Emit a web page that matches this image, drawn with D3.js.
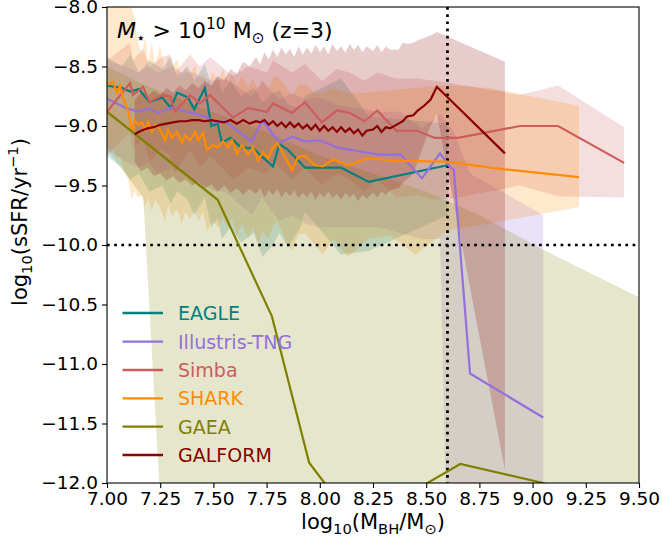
<!DOCTYPE html>
<html>
<head>
<meta charset="utf-8">
<script src="https://cdn.jsdelivr.net/npm/d3@7"></script>
<style>
  html, body { margin: 0; padding: 0; background: #fff; }
  svg { display: block; font-family: "DejaVu Sans", sans-serif; }
</style>
</head>
<body>
<div id="chart"></div>
<script>
// ---- data: median sSFR and 16-84 percentile range per model ----
const eagleX   = [7.00,7.07,7.11,7.15,7.20,7.26,7.30,7.33,7.38,7.41,7.46,7.49,7.52,7.54,7.58,7.63,7.69,7.73,7.78,7.81,7.85,7.91,7.93,8.10,8.23,8.60];
const eagleMed = [-8.66,-8.68,-8.71,-8.69,-8.80,-8.76,-8.85,-8.72,-8.76,-8.86,-8.68,-9.00,-8.98,-9.14,-9.10,-9.18,-9.19,-9.26,-9.34,-9.15,-9.20,-9.31,-9.35,-9.35,-9.47,-9.33];
const eagleHi  = [-8.42,-8.50,-8.40,-8.55,-8.45,-8.52,-8.42,-8.58,-8.50,-8.62,-8.48,-8.66,-8.58,-8.72,-8.62,-8.75,-8.68,-8.80,-8.72,-8.70,-8.82,-8.85,-8.75,-8.60,-8.92,-8.98];
const eagleLo  = [-9.25,-9.35,-9.45,-9.40,-9.55,-9.50,-9.65,-9.55,-9.62,-9.75,-9.60,-9.85,-9.78,-9.95,-9.85,-9.98,-9.90,-10.10,-10.00,-9.90,-10.02,-9.85,-9.72,-10.08,-10.05,-9.75];

const tngX   = [7.00,7.09,7.15,7.19,7.24,7.31,7.35,7.40,7.46,7.51,7.555,7.68,7.73,7.81,7.87,7.93,8.00,8.08,8.175,8.28,8.38,8.48,8.565,8.61,8.63,8.706,9.05];
const tngMed = [-8.77,-8.85,-8.88,-8.85,-8.89,-8.84,-8.87,-8.89,-8.92,-8.97,-8.96,-9.13,-8.95,-9.14,-9.09,-9.13,-9.12,-9.18,-9.21,-9.24,-9.24,-9.44,-9.23,-9.34,-9.37,-11.08,-11.45];
const tngHi  = [-8.45,-8.50,-8.55,-8.50,-8.55,-8.50,-8.55,-8.55,-8.60,-8.62,-8.60,-8.75,-8.62,-8.78,-8.72,-8.78,-8.76,-8.82,-8.85,-8.88,-8.88,-9.02,-8.90,-9.00,-9.05,-9.40,-9.75];
const tngLo  = [-9.20,-9.30,-9.35,-9.30,-9.40,-9.35,-9.40,-9.45,-9.50,-9.55,-9.55,-9.75,-9.60,-9.80,-9.75,-9.82,-9.85,-9.85,-9.85,-9.85,-9.90,-9.95,-9.95,-13.5,-13.5,-13.5,-13.5];

const simbaX   = [7.00,7.108,7.122,7.169,7.20,7.258,7.296,7.32,7.39,7.437,7.484,7.592,7.663,7.752,7.78,7.87,7.93,8.01,8.08,8.14,8.21,8.27,8.36,8.457,8.54,8.65,8.94,9.12,9.43];
const simbaMed = [-8.88,-8.64,-8.74,-8.67,-8.80,-8.74,-8.75,-8.88,-8.74,-8.81,-8.74,-8.93,-8.85,-8.88,-8.81,-8.89,-8.80,-8.97,-8.87,-8.89,-8.96,-8.87,-9.04,-9.04,-9.10,-9.10,-9.00,-9.00,-9.31];
const simbaHi  = [-8.45,-8.30,-8.45,-8.35,-8.50,-8.42,-8.40,-8.55,-8.40,-8.50,-8.42,-8.58,-8.50,-8.55,-8.45,-8.55,-8.48,-8.62,-8.52,-8.55,-8.62,-8.55,-8.60,-8.60,-8.62,-8.65,-8.74,-8.66,-9.01];
const simbaLo  = [-9.25,-9.05,-9.20,-9.10,-9.30,-9.20,-9.25,-9.40,-9.20,-9.35,-9.25,-9.45,-9.35,-9.40,-9.30,-9.45,-9.35,-9.50,-9.40,-9.45,-9.55,-9.45,-9.60,-9.58,-9.62,-9.60,-9.50,-9.59,-9.60];

const sharkX   = [7.000,7.014,7.028,7.047,7.061,7.075,7.099,7.117,7.130,7.146,7.164,7.179,7.193,7.211,7.226,7.249,7.273,7.287,7.305,7.329,7.352,7.367,7.390,7.414,7.428,7.451,7.470,7.498,7.520,7.545,7.569,7.587,7.611,7.634,7.663,7.686,7.710,7.733,7.757,7.780,7.800,7.836,7.870,7.898,7.930,7.977,8.015,8.062,8.133,8.226,8.330,8.450,8.598,8.800,9.218];
const sharkMed = [-8.66,-8.64,-8.63,-8.72,-8.66,-8.76,-8.87,-9.05,-8.95,-8.99,-8.97,-9.03,-8.97,-9.05,-8.99,-9.03,-9.12,-9.03,-9.10,-9.05,-9.14,-9.08,-9.12,-9.05,-9.12,-9.06,-9.20,-9.16,-9.18,-9.13,-9.18,-9.12,-9.23,-9.16,-9.24,-9.18,-9.29,-9.22,-9.27,-9.18,-9.14,-9.26,-9.37,-9.26,-9.25,-9.33,-9.34,-9.28,-9.33,-9.27,-9.29,-9.295,-9.30,-9.35,-9.43];
const sharkHi  = [-7.80,-7.85,-7.82,-7.90,-7.86,-7.95,-7.92,-8.02,-8.10,-8.30,-8.40,-8.25,-8.45,-8.30,-8.50,-8.32,-8.55,-8.40,-8.50,-8.44,-8.60,-8.50,-8.56,-8.48,-8.62,-8.55,-8.65,-8.55,-8.62,-8.52,-8.64,-8.56,-8.66,-8.58,-8.68,-8.60,-8.70,-8.62,-8.68,-8.60,-8.58,-8.66,-8.75,-8.66,-8.65,-8.72,-8.72,-8.68,-8.72,-8.72,-8.70,-8.68,-8.66,-8.68,-8.83];
const sharkLo  = [-9.15,-9.20,-9.18,-9.28,-9.25,-9.35,-9.45,-9.62,-9.55,-9.60,-9.58,-9.68,-9.60,-9.72,-9.62,-9.68,-9.80,-9.66,-9.76,-9.70,-9.82,-9.72,-9.78,-9.70,-9.80,-9.72,-9.88,-9.80,-9.85,-9.78,-9.86,-9.78,-9.92,-9.82,-9.94,-9.85,-9.98,-9.88,-9.95,-9.84,-9.80,-9.95,-10.05,-9.92,-9.90,-10.00,-10.08,-9.95,-10.10,-9.95,-9.92,-10.08,-9.88,-9.82,-9.68];

const gaeaX     = [7.00,7.52,7.775,7.95,8.15,8.40,8.66,9.05,9.30];
const gaeaMed   = [-8.88,-9.62,-10.60,-11.83,-12.30,-12.11,-11.84,-12.00,-12.20];
const gaeaBandX = [7.00,7.17,7.45,7.75,8.00,8.25,8.50,8.75,9.05,9.50];
const gaeaHi    = [-8.50,-8.65,-8.85,-9.05,-9.25,-9.40,-9.55,-9.75,-10.04,-10.44];
const gaeaLo    = [-9.20,-9.60,-18.5,-18.5,-18.5,-18.5,-18.5,-18.5,-18.5,-18.5];

const galformX   = [7.13,7.16,7.19,7.22,7.25,7.28,7.31,7.34,7.37,7.40,7.43,7.46,7.49,7.52,7.55,7.58,7.61,7.64,7.67,7.70,
                    7.72,7.74,7.76,7.78,7.80,7.82,7.84,7.86,7.88,7.90,7.92,7.94,7.96,7.98,8.00,8.02,8.04,8.06,8.08,8.10,8.12,8.14,8.16,8.18,8.20,8.22,
                    8.25,8.27,8.29,8.31,8.33,8.37,8.39,8.41,8.44,8.46,8.49,8.52,8.55,8.87];
const galformMed = [-9.07,-9.04,-9.02,-9.01,-8.99,-8.98,-8.97,-8.96,-8.96,-8.95,-8.95,-8.96,-8.95,-8.96,-8.97,-8.95,-8.98,-8.95,-8.98,-8.96,
                    -8.97,-8.95,-8.99,-8.96,-9.00,-8.97,-9.01,-8.97,-9.01,-8.98,-9.02,-8.99,-9.03,-8.99,-9.04,-9.00,-9.04,-9.01,-9.05,-9.01,-9.05,-9.02,-9.06,-9.03,-9.08,-9.04,
                    -9.03,-9.00,-9.05,-9.01,-9.02,-8.98,-8.96,-8.92,-8.91,-8.87,-8.83,-8.78,-8.67,-9.23];
const galformHi  = [-8.78,-8.72,-8.75,-8.70,-8.74,-8.68,-8.72,-8.66,-8.70,-8.64,-8.68,-8.62,-8.66,-8.58,-8.62,-8.52,-8.56,-8.46,-8.50,-8.42,
                    -8.48,-8.38,-8.44,-8.36,-8.42,-8.34,-8.40,-8.35,-8.42,-8.33,-8.40,-8.34,-8.39,-8.32,-8.38,-8.33,-8.40,-8.31,-8.37,-8.33,-8.38,-8.31,-8.36,-8.32,-8.38,-8.33,
                    -8.37,-8.32,-8.38,-8.33,-8.36,-8.36,-8.30,-8.31,-8.30,-8.28,-8.26,-8.24,-8.21,-8.46];
const galformLo  = [-9.30,-9.38,-9.35,-9.42,-9.40,-9.46,-9.42,-9.48,-9.45,-9.50,-9.47,-9.53,-9.49,-9.55,-9.50,-9.56,-9.52,-9.58,-9.53,-9.57,
                    -9.52,-9.60,-9.54,-9.58,-9.53,-9.60,-9.55,-9.59,-9.54,-9.61,-9.56,-9.60,-9.55,-9.62,-9.56,-9.60,-9.55,-9.61,-9.57,-9.62,-9.56,-9.60,-9.57,-9.63,-9.58,-9.61,
                    -9.56,-9.60,-9.55,-9.58,-9.54,-9.52,-9.48,-9.45,-9.40,-9.30,-9.15,-9.00,-8.90,-11.89];

const xTicks = [7.00,7.25,7.50,7.75,8.00,8.25,8.50,8.75,9.00,9.25,9.50];
const yTicks = [-8.0,-8.5,-9.0,-9.5,-10.0,-10.5,-11.0,-11.5,-12.0];
const modelNames  = ["EAGLE","Illustris-TNG","Simba","SHARK","GAEA","GALFORM"];
const modelColors = ["#008080","#9370DB","#CD5C5C","#FF8C00","#808000","#8B0000"];

// ---- layout ----
const W = 662, H = 545;
const m = {left: 107, top: 7, right: 23, bottom: 62};
const iw = W - m.left - m.right, ih = H - m.top - m.bottom;

const svg = d3.select("#chart").append("svg").attr("width", W).attr("height", H);
svg.append("defs").append("clipPath").attr("id", "plotclip")
  .append("rect").attr("width", iw).attr("height", ih);

const g = svg.append("g").attr("transform", `translate(${m.left},${m.top})`);
const x = d3.scaleLinear().domain([7.0, 9.5]).range([0, iw]);
const y = d3.scaleLinear().domain([-12.0, -8.0]).range([ih, 0]);

const plot = g.append("g").attr("clip-path", "url(#plotclip)");

const zip = (xs, ...cols) => xs.map((v, i) => [v, ...cols.map(c => c[i])]);

const bands = [
  {c: modelColors[0], d: zip(eagleX, eagleLo, eagleHi)},
  {c: modelColors[1], d: zip(tngX, tngLo, tngHi)},
  {c: modelColors[2], d: zip(simbaX, simbaLo, simbaHi)},
  {c: modelColors[3], d: zip(sharkX, sharkLo, sharkHi)},
  {c: modelColors[4], d: zip(gaeaBandX, gaeaLo, gaeaHi)},
  {c: modelColors[5], d: zip(galformX, galformLo, galformHi)}
];
const area = d3.area().x(d => x(d[0])).y0(d => y(d[1])).y1(d => y(d[2]));
bands.forEach(b => {
  plot.append("path").attr("d", area(b.d)).attr("fill", b.c).attr("fill-opacity", 0.2);
});

// reference lines
plot.append("line").attr("x1", 0).attr("x2", iw).attr("y1", y(-10)).attr("y2", y(-10))
  .attr("stroke", "#000").attr("stroke-width", 2.7).attr("stroke-dasharray", "2.7,4.5");
plot.append("line").attr("x1", x(8.6)).attr("x2", x(8.6)).attr("y1", 0).attr("y2", ih)
  .attr("stroke", "#000").attr("stroke-width", 2.7).attr("stroke-dasharray", "2.7,4.5");

const lines = [
  {c: modelColors[0], d: zip(eagleX, eagleMed)},
  {c: modelColors[1], d: zip(tngX, tngMed)},
  {c: modelColors[2], d: zip(simbaX, simbaMed)},
  {c: modelColors[3], d: zip(sharkX, sharkMed)},
  {c: modelColors[4], d: zip(gaeaX, gaeaMed)},
  {c: modelColors[5], d: zip(galformX, galformMed)}
];
const line = d3.line().x(d => x(d[0])).y(d => y(d[1]));
lines.forEach(l => {
  plot.append("path").attr("d", line(l.d)).attr("fill", "none")
    .attr("stroke", l.c).attr("stroke-width", 2.2).attr("stroke-linejoin", "miter");
});

// axes
const fsTick = 18.5;
const xAxis = g.append("g").attr("transform", `translate(0,${ih})`)
  .call(d3.axisBottom(x).tickValues(xTicks).tickFormat(d3.format(".2f")).tickSize(5).tickPadding(4));
const yAxis = g.append("g")
  .call(d3.axisLeft(y).tickValues(yTicks).tickFormat(d3.format(".1f")).tickSize(5).tickPadding(4));
[xAxis, yAxis].forEach(a => {
  a.select(".domain").remove();
  a.selectAll(".tick line").attr("stroke", "#000").attr("stroke-width", 1.1);
  a.selectAll(".tick text").attr("fill", "#000").style("font-size", fsTick + "px")
    .style("font-family", "DejaVu Sans");
});
g.append("rect").attr("width", iw).attr("height", ih).attr("fill", "none")
  .attr("stroke", "#000").attr("stroke-width", 1.1);

// text with sub/superscripts
function rich(sel, parts, fs) {
  let off = 0;
  parts.forEach(([t, mode]) => {
    const target = mode === "sub" ? 0.22 * fs : mode === "sup" ? -0.42 * fs : 0;
    const ts = sel.append("tspan").attr("dy", target - off).text(t);
    if (mode === "sub" || mode === "sup") ts.style("font-size", (0.7 * fs) + "px");
    if (mode === "it") ts.style("font-style", "italic");
    off = target;
  });
}

const title = svg.append("text").attr("x", 117).attr("y", 38)
  .style("font-size", "22px").attr("fill", "#000");
rich(title, [["M", "it"], ["\u22C6", "sub"], [" > 10", ""], ["10", "sup"], [" M", ""], ["\u2299", "sub"], [" (z=3)", ""]], 22);

const xl = svg.append("text").attr("x", m.left + iw / 2).attr("y", 529)
  .attr("text-anchor", "middle").style("font-size", "21px").attr("fill", "#000");
rich(xl, [["log", ""], ["10", "sub"], ["(M", ""], ["BH", "sub"], ["/M", ""], ["\u2299", "sub"], [")", ""]], 21);

const yl = svg.append("text").attr("transform", "translate(27,222) rotate(-90)")
  .attr("text-anchor", "middle").style("font-size", "21px").attr("fill", "#000");
rich(yl, [["log", ""], ["10", "sub"], ["(sSFR/yr", ""], ["\u22121", "sup"], [")", ""]], 21);

// legend
const legY = [313, 341.7, 370, 398.3, 426.7, 455];
const leg = svg.append("g");
modelNames.forEach((n, i) => {
  leg.append("line").attr("x1", 122.5).attr("x2", 163).attr("y1", legY[i]).attr("y2", legY[i])
    .attr("stroke", modelColors[i]).attr("stroke-width", 2.3);
  leg.append("text").attr("x", 178).attr("y", legY[i]).attr("dy", "0.36em")
    .style("font-size", "19px").attr("fill", modelColors[i]).text(n);
});
</script>
</body>
</html>
